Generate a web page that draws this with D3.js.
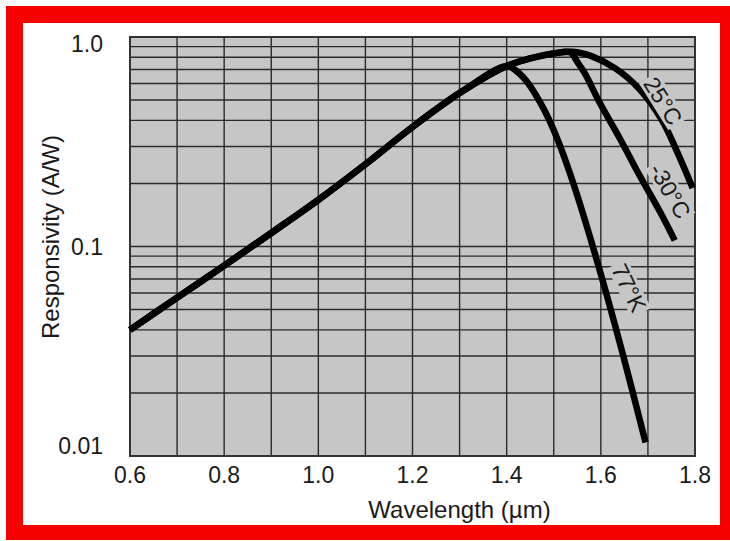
<!DOCTYPE html>
<html>
<head>
<meta charset="utf-8">
<script src="https://cdn.jsdelivr.net/npm/d3@7"></script>
<style>
  body { margin: 0; background: #fff; }
  text { font-family: "Liberation Sans", Arial, sans-serif; fill: #1a1a1a; }
</style>
</head>
<body>
<div id="chart"></div>
<script>
// wavelength (um) and responsivity (A/W)
var sharedWl   = [0.6, 0.7, 0.8, 0.9, 1.0, 1.1, 1.2, 1.3, 1.4];
var sharedResp = [0.040, 0.057, 0.081, 0.116, 0.167, 0.247, 0.372, 0.54, 0.727];

var wl25   = [1.45, 1.5, 1.54, 1.58, 1.63, 1.68, 1.73, 1.76, 1.795];
var resp25 = [0.79, 0.835, 0.85, 0.81, 0.71, 0.57, 0.40, 0.29, 0.19];

var wlM30   = [1.45, 1.5, 1.535, 1.55, 1.566, 1.598, 1.641, 1.683, 1.726, 1.757];
var respM30 = [0.79, 0.835, 0.845, 0.76, 0.67, 0.484, 0.326, 0.217, 0.146, 0.107];

var wl77   = [1.42, 1.44, 1.46, 1.48, 1.50, 1.52, 1.55, 1.60, 1.65, 1.695];
var resp77 = [0.69, 0.624, 0.538, 0.448, 0.359, 0.276, 0.175, 0.0738, 0.0287, 0.0116];

var xTickValues = [0.6, 0.8, 1.0, 1.2, 1.4, 1.6, 1.8];
var yTickValues = [0.01, 0.1, 1.0];
var yTickLabels = ["0.01", "0.1", "1.0"];

var curveNames  = ["25°C", "-30°C", "77°K"];
var labelWl     = [1.732, 1.747, 1.660];
var labelResp   = [0.495, 0.184, 0.0634];
var labelAngle  = [58, 60, 64];

var W = 730, H = 541;
var margin = {top: 37, right: 35, bottom: 85, left: 130},
    width = W - margin.left - margin.right,
    height = H - margin.top - margin.bottom;

var svg = d3.select("#chart").append("svg")
    .attr("width", W)
    .attr("height", H);

// red frame
svg.append("rect").attr("x", 6).attr("y", 6).attr("width", 724).attr("height", 534).attr("fill", "#f70000");
svg.append("rect").attr("x", 23).attr("y", 23).attr("width", 697).attr("height", 502).attr("fill", "#fff");

var x = d3.scaleLinear().domain([0.6, 1.8]).range([0, width]);
var y = d3.scaleLog().domain([0.01, 1]).range([height, 0]);

var g = svg.append("g")
    .attr("transform", "translate(" + margin.left + "," + margin.top + ")");

g.append("rect")
    .attr("width", width)
    .attr("height", height)
    .attr("fill", "#c6c6c6");

// grid
g.selectAll(".vgrid").data(x.ticks(12)).enter().append("line")
    .attr("class", "vgrid")
    .attr("x1", function(d) { return x(d); })
    .attr("x2", function(d) { return x(d); })
    .attr("y1", 0).attr("y2", height)
    .attr("stroke", "#2b2b2b").attr("stroke-width", 1.4);

g.selectAll(".hgrid").data(y.ticks()).enter().append("line")
    .attr("class", "hgrid")
    .attr("x1", 0).attr("x2", width)
    .attr("y1", function(d) { return y(d); })
    .attr("y2", function(d) { return y(d); })
    .attr("stroke", "#2b2b2b").attr("stroke-width", 1.4);

g.append("rect")
    .attr("width", width).attr("height", height)
    .attr("fill", "none").attr("stroke", "#333").attr("stroke-width", 2);

// curves
function zipPts(wl, r) {
    return wl.map(function(w, i) { return {w: w, r: r[i]}; });
}
var base = zipPts(sharedWl, sharedResp);
var series = [
    base.concat(zipPts(wl25, resp25)),
    base.concat(zipPts(wlM30, respM30)),
    base.concat(zipPts(wl77, resp77))
];

var line = d3.line()
    .x(function(d) { return x(d.w); })
    .y(function(d) { return y(d.r); })
    .curve(d3.curveCatmullRom.alpha(0.5));

g.selectAll(".curve").data(series).enter().append("path")
    .attr("class", "curve")
    .attr("d", line)
    .attr("fill", "none")
    .attr("stroke", "#000")
    .attr("stroke-width", 6.5)
    .attr("stroke-linecap", "butt")
    .attr("stroke-linejoin", "round");

// curve labels, with gray patch hiding the grid behind them
curveNames.forEach(function(name, i) {
    var lg = g.append("g")
        .attr("transform", "translate(" + x(labelWl[i]) + "," + y(labelResp[i]) + ") rotate(" + labelAngle[i] + ")");
    var t = lg.append("text")
        .attr("text-anchor", "middle")
        .attr("dy", "0.35em")
        .style("font-size", "23px")
        .text(name);
    var bb = t.node().getBBox();
    lg.insert("rect", "text")
        .attr("x", bb.x - 2).attr("y", bb.y + 2)
        .attr("width", bb.width + 4).attr("height", bb.height - 4)
        .attr("fill", "#c6c6c6");
});

// axis labels
g.selectAll(".xlab").data(xTickValues).enter().append("text")
    .attr("class", "xlab")
    .attr("x", function(d) { return x(d); })
    .attr("y", height + 27)
    .attr("text-anchor", "middle")
    .style("font-size", "23px")
    .text(function(d) { return d.toFixed(1); });

g.selectAll(".ylab").data(yTickValues).enter().append("text")
    .attr("class", "ylab")
    .attr("x", -27)
    .attr("y", function(d) { return Math.min(Math.max(y(d), 7), height - 10); })
    .attr("dy", "0.35em")
    .attr("text-anchor", "end")
    .style("font-size", "23px")
    .text(function(d, i) { return yTickLabels[i]; });

g.append("text")
    .attr("x", width / 2 + 47)
    .attr("y", height + 62)
    .attr("text-anchor", "middle")
    .style("font-size", "24px")
    .text("Wavelength (µm)");

g.append("text")
    .attr("transform", "translate(" + (-79) + "," + 200 + ") rotate(-90)")
    .attr("dy", "0.35em")
    .attr("text-anchor", "middle")
    .style("font-size", "24px")
    .text("Responsivity (A/W)");
</script>
</body>
</html>
